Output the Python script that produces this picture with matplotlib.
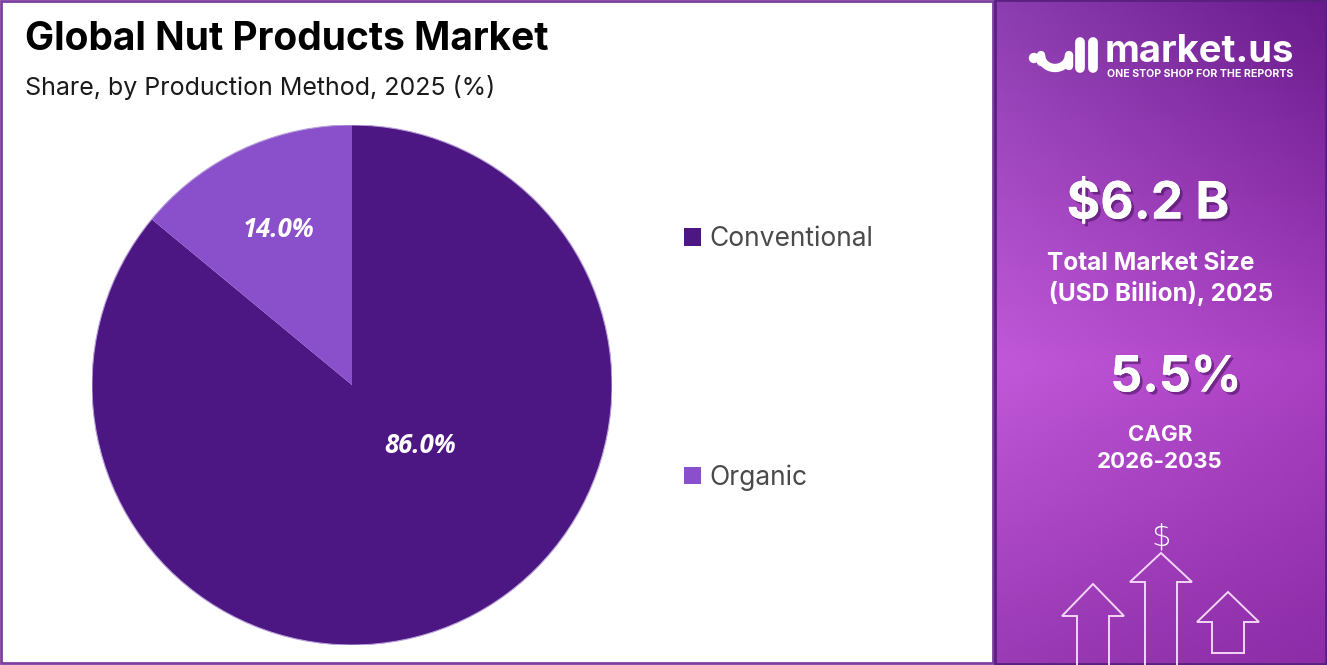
import numpy as np
import matplotlib
matplotlib.use("Agg")
import matplotlib.pyplot as plt
import matplotlib.colors as mcolors
from matplotlib.patches import Polygon, Rectangle, Circle, Arc
import matplotlib.patheffects as pe

# data
methods = ["Conventional", "Organic"]
shares = [86.0, 14.0]
colors = ["#4C1782", "#8A4FCB"]

title = "Global Nut Products Market"
subtitle = "Share, by Production Method, 2025 (%)"
market_size = "$6.2 B"
market_size_label = ["Total Market Size", " (USD Billion), 2025"]
cagr = "5.5%"
cagr_label = ["CAGR", "2026-2035"]

W, H = 1327, 665
fig = plt.figure(figsize=(W / 100, H / 100), dpi=100)
fig.patch.set_facecolor("white")

# background / decoration layer in pixel coordinates
bg = fig.add_axes([0, 0, 1, 1], zorder=0)
bg.set_xlim(0, W)
bg.set_ylim(H, 0)
bg.axis("off")

# left panel border
bg.add_patch(Rectangle((1, 1), 992, 662, fill=False, edgecolor="#7B3FA0", lw=2))

# right panel gradient
ny, nx = 200, 100
yy, xx = np.mgrid[0:1:ny * 1j, 0:1:nx * 1j]
top = np.array(mcolors.to_rgb("#7A2C9E"))
mid = np.array(mcolors.to_rgb("#B54CCD"))
bot = np.array(mcolors.to_rgb("#9333AE"))
t = yy[..., None]
img = np.where(t < 0.55, top + (mid - top) * (t / 0.55), mid + (bot - mid) * ((t - 0.55) / 0.45))
# darker upper right, lighter lower left
shade = 0.14 * (xx - 0.5)[..., None] * (1 - 0.6 * yy[..., None])
img = np.clip(img - shade, 0, 1)
bg.imshow(img, extent=(995, W, H, 0), aspect="auto", zorder=1)
bg.add_patch(Rectangle((995, 0), W - 996, H - 1, fill=False, edgecolor="#5A1F80", lw=2, zorder=2))

# logo
bg.add_patch(Circle((1034, 58), 4.5, color="white", zorder=3))
bg.add_patch(Arc((1055, 55), 28, 26, theta1=0, theta2=180, color="white", lw=6, zorder=3))
bg.plot([1041, 1041], [55, 62], color="white", lw=6, solid_capstyle="round", zorder=3)
bg.plot([1069, 1069], [55, 66], color="white", lw=6, solid_capstyle="round", zorder=3)
bg.plot([1080, 1080], [42, 68], color="white", lw=7, solid_capstyle="round", zorder=3)
bg.plot([1093, 1093], [42, 68], color="white", lw=7, solid_capstyle="round", zorder=3)
bg.text(1105, 62, "market.us", color="white", fontsize=27.5, fontweight="bold",
        family="Inter", ha="left", va="baseline", zorder=3)
bg.text(1107, 74, "ONE STOP SHOP FOR THE REPORTS", color="white", fontsize=7.6,
        fontweight="bold", family="Inter", ha="left", va="center", zorder=3)

shadow = [pe.withSimplePatchShadow(offset=(2, -2), shadow_rgbFace="#3a0a50", alpha=0.5), pe.Normal()]

bg.text(1148, 205, market_size, color="white", fontsize=37, fontweight="bold",
        family="Inter", ha="center", va="center", zorder=3, path_effects=shadow)
bg.text(1151, 264, market_size_label[0], color="white", fontsize=17.5, fontweight="bold",
        family="Inter", ha="center", va="center", zorder=3)
bg.text(1158, 293, market_size_label[1], color="white", fontsize=17.5, fontweight="bold",
        family="Inter", ha="center", va="center", zorder=3)
bg.text(1176, 378, cagr, color="white", fontsize=36, fontweight="bold",
        family="Inter", ha="center", va="center", zorder=3, path_effects=shadow)
bg.text(1160, 435, cagr_label[0], color="white", fontsize=16, fontweight="bold",
        family="Inter", ha="center", va="center", zorder=3)
bg.text(1160, 462, cagr_label[1], color="white", fontsize=16, fontweight="bold",
        family="Inter", ha="center", va="center", zorder=3)

# arrows
def arrow(cx, tip, base, half_head, half_shaft, bottom, closed=True):
    pts = [(cx - half_shaft, bottom), (cx - half_shaft, base), (cx - half_head, base),
           (cx, tip), (cx + half_head, base), (cx + half_shaft, base), (cx + half_shaft, bottom)]
    bg.add_patch(Polygon(pts, closed=closed, fill=False, edgecolor="#F3D6F7", lw=1.4, zorder=3))

arrow(1093, 584, 616, 31, 16, 668, closed=False)
arrow(1161, 553, 582, 31, 16, 668, closed=False)
arrow(1228, 592, 622, 31, 16, 653)
bg.text(1161, 537, "$", color="white", fontsize=22, family="DejaVu Sans",
        fontweight="light", ha="center", va="center", zorder=3)

# titles
bg.text(25, 40, title, fontsize=28, fontweight="bold", family="Inter",
        color="black", ha="left", va="center")
bg.text(25, 87, subtitle, fontsize=18, family="Inter", color="#1a1a1a",
        ha="left", va="center")

# pie
cx, cy, r = 352, 385, 260
ax = fig.add_axes([(cx - r) / W, (H - cy - r) / H, 2 * r / W, 2 * r / H], zorder=2)
wedges, _, autotexts = ax.pie(shares, colors=colors, startangle=90, counterclock=False,
                              autopct="%1.1f%%", pctdistance=0.66, radius=1,
                              wedgeprops=dict(edgecolor="none"),
                              textprops=dict(color="white", fontsize=18.5, fontweight="bold",
                                             fontstyle="italic", family="Open Sans"))
ax.add_patch(Circle((0, 0), 1, fill=False, edgecolor="#B9A0DA", lw=0.8))
# the big slice label sits closer to the centre
ang = np.deg2rad(-41.9)
autotexts[0].set_position((0.35 * np.cos(ang), 0.35 * np.sin(ang)))
ax.set_xlim(-1, 1)
ax.set_ylim(-1, 1)
ax.set_aspect("equal")

# legend
fig.legend(wedges, methods, loc="upper left", bbox_to_anchor=(684 / W, 1 - 226 / H),
           frameon=False, handlelength=0.65, handleheight=0.65,
           handletextpad=0.3, labelspacing=8.05, borderpad=0, borderaxespad=0,
           labelcolor="#4a4a4a", prop=dict(family="Inter", size=19))

fig.savefig("out.png", dpi=100)
